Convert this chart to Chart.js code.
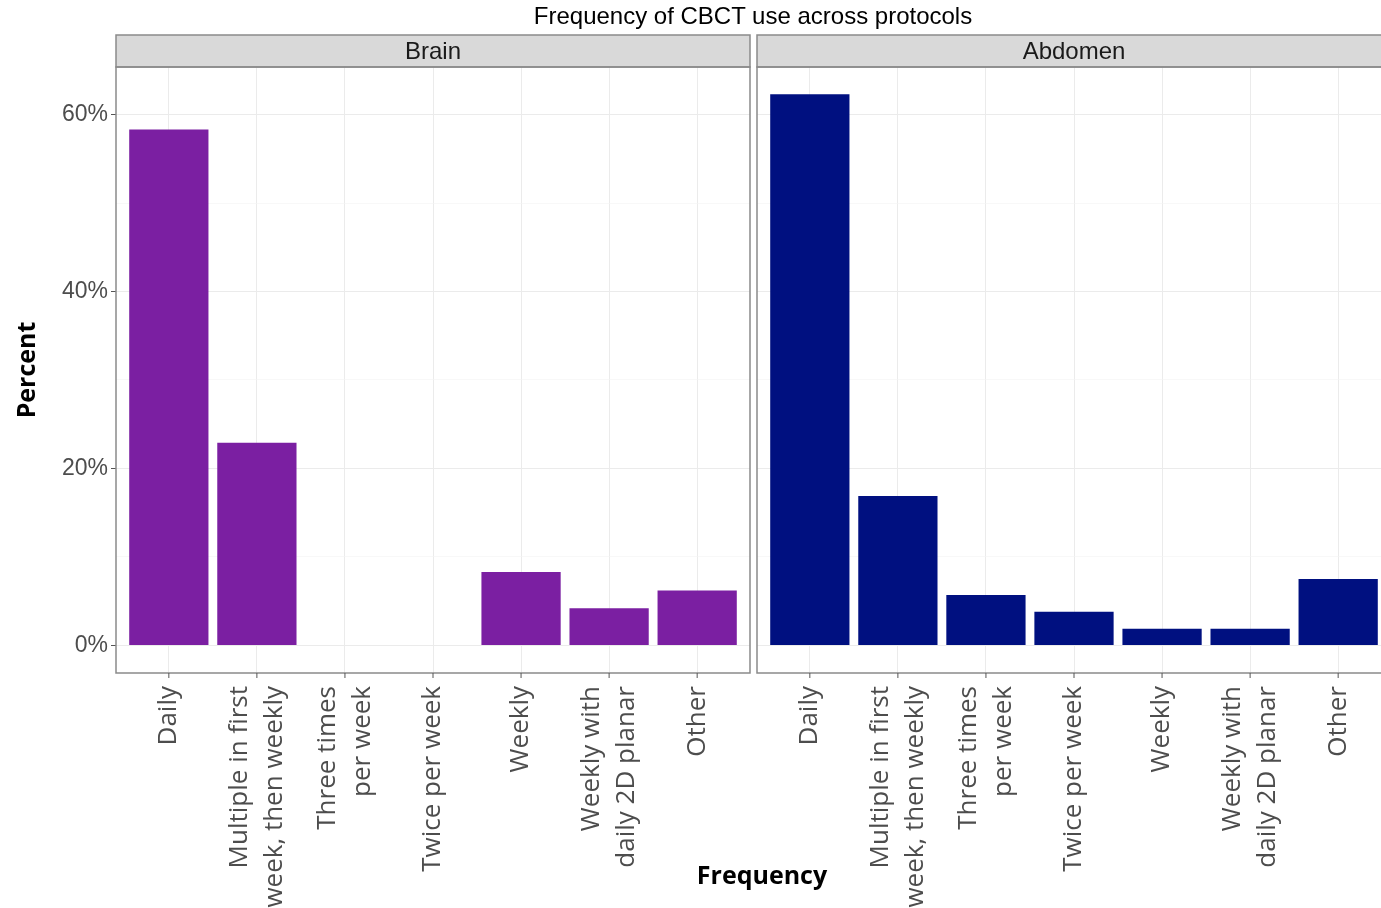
<!DOCTYPE html>
<html>
<head>
<meta charset="utf-8">
<title>Frequency of CBCT use across protocols</title>
<script src="https://cdn.jsdelivr.net/npm/chart.js@4.4.1/dist/chart.umd.min.js"></script>
<style>
  html, body { margin: 0; padding: 0; background: #fff; overflow: hidden; }
  #wrap { position: relative; width: 1381px; height: 908px; overflow: hidden; }
  canvas { position: absolute; top: 0; }
  #brainChart { left: 0; }
  #abdomenChart { left: 754px; }
  .txt { position: absolute; white-space: nowrap; transform: translate(-50%, -50%); }
  #mainTitle { left: 753px; top: 16px; font: 24px "Liberation Sans", Arial, sans-serif; color: #000; }
  #xTitle { left: 762px; top: 874px; font: bold 25px "Open Sans", sans-serif; color: #000; }
</style>
</head>
<body>
<div id="wrap">
  <canvas id="brainChart" width="753" height="908"></canvas>
  <canvas id="abdomenChart" width="640" height="908"></canvas>
  <div class="txt" id="mainTitle">Frequency of CBCT use across protocols</div>
  <div class="txt" id="xTitle">Frequency</div>
</div>
<script>
// categories (multi-line labels as arrays)
const categories = [
    ['Daily'],
    ['Multiple in first', 'week, then weekly'],
    ['Three times', 'per week'],
    ['Twice per week'],
    ['Weekly'],
    ['Weekly with', 'daily 2D planar'],
    ['Other']
];
const panels = ['Brain', 'Abdomen'];
const brainPct = [58.3, 22.9, 0, 0, 8.3, 4.2, 6.2];
const abdomenPct = [62.3, 16.9, 5.7, 3.8, 1.9, 1.9, 7.5];
const yTickValues = [0, 20, 40, 60];

const COLOR_BRAIN = '#7b1fa2';
const COLOR_ABDOMEN = '#001080';
const GRID_MAJOR = '#ebebeb';
const GRID_MINOR = '#f4f4f4';
const BORDER = '#8a8a8a';

// shared limits (ggplot-like expansion around data)
const Y_MIN = -3.11, Y_MAX = 65.37;
const X_MIN = -0.6, X_MAX = 6.6;

const toPoints = vals => vals.map((v, i) => ({ x: i, y: v }));
const isMajor = v => yTickValues.includes(v);

// panel border, strip header, x tick marks and rotated category labels
const panelDecor = {
    id: 'panelDecor',
    afterDraw(chart, args, opts) {
        const { ctx, chartArea: a } = chart;
        const xs = chart.scales.x;
        ctx.save();

        // strip
        ctx.fillStyle = '#d9d9d9';
        ctx.fillRect(a.left, 35, a.right - a.left, a.top - 35);
        ctx.strokeStyle = BORDER;
        ctx.lineWidth = 1.5;
        ctx.strokeRect(a.left, 35, a.right - a.left, a.top - 35);
        ctx.fillStyle = '#1a1a1a';
        ctx.font = '24px "Liberation Sans", Arial, sans-serif';
        ctx.textAlign = 'center';
        ctx.textBaseline = 'middle';
        ctx.fillText(opts.label, (a.left + a.right) / 2, (35 + a.top) / 2 + 1);

        // panel border
        ctx.strokeRect(a.left, a.top, a.right - a.left, a.bottom - a.top);

        // x ticks + labels
        ctx.strokeStyle = '#555';
        ctx.lineWidth = 1;
        ctx.font = '26px "Open Sans", sans-serif';
        ctx.fillStyle = '#4d4d4d';
        ctx.textAlign = 'right';
        ctx.textBaseline = 'middle';
        const lh = 35;
        categories.forEach((lines, i) => {
            const x = xs.getPixelForValue(i);
            ctx.beginPath();
            ctx.moveTo(x, a.bottom);
            ctx.lineTo(x, a.bottom + 5);
            ctx.stroke();
            ctx.save();
            ctx.translate(x, a.bottom + 13);
            ctx.rotate(-Math.PI / 2);
            lines.forEach((line, j) => {
                ctx.fillText(line, 0, (j - (lines.length - 1) / 2) * lh);
            });
            ctx.restore();
        });
        ctx.restore();
    }
};

function makeChart(id, label, values, color, withYAxis) {
    return new Chart(document.getElementById(id), {
        type: 'bar',
        data: {
            datasets: [{
                data: toPoints(values),
                backgroundColor: color,
                borderWidth: 0,
                barPercentage: 0.9,
                categoryPercentage: 1.0
            }]
        },
        options: {
            responsive: false,
            animation: false,
            devicePixelRatio: 1,
            layout: { padding: { top: 67, right: 3, left: withYAxis ? 0 : 3, bottom: 0 } },
            plugins: {
                legend: { display: false },
                tooltip: { enabled: false },
                panelDecor: { label }
            },
            scales: {
                x: {
                    type: 'linear',
                    offset: false,
                    min: X_MIN,
                    max: X_MAX,
                    ticks: { stepSize: 1, includeBounds: false, display: false },
                    grid: { color: GRID_MAJOR, lineWidth: 1, drawTicks: false, offset: false },
                    border: { display: false },
                    afterFit: s => { s.height = 235; }
                },
                y: {
                    min: Y_MIN,
                    max: Y_MAX,
                    ticks: {
                        display: withYAxis,
                        stepSize: 10,
                        includeBounds: false,
                        padding: 3,
                        color: '#4d4d4d',
                        font: { family: '"Liberation Sans", Arial, sans-serif', size: 23 },
                        callback: v => isMajor(v) ? v + '%' : ''
                    },
                    grid: {
                        color: c => isMajor(c.tick.value) ? GRID_MAJOR : GRID_MINOR,
                        lineWidth: c => isMajor(c.tick.value) ? 1 : 0.6,
                        drawTicks: withYAxis,
                        tickLength: 5,
                        tickColor: c => isMajor(c.tick.value) ? '#555' : 'rgba(0,0,0,0)'
                    },
                    border: { display: false },
                    title: {
                        display: withYAxis,
                        text: 'Percent',
                        color: '#000',
                        font: { family: '"Open Sans", sans-serif', size: 25, weight: 'bold' },
                        padding: { top: 13, bottom: 0 }
                    },
                    afterFit: s => { s.width = withYAxis ? 116 : 0; }
                }
            }
        },
        plugins: [panelDecor]
    });
}

makeChart('brainChart', panels[0], brainPct, COLOR_BRAIN, true);
makeChart('abdomenChart', panels[1], abdomenPct, COLOR_ABDOMEN, false);
</script>
</body>
</html>
